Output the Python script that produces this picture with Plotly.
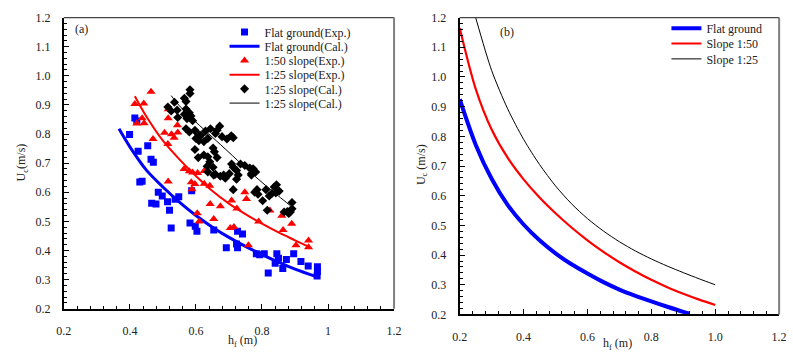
import plotly.graph_objects as go

# ---------------- data: panel (a) ----------------
flat_exp_h = [0.399, 0.415, 0.421, 0.425, 0.454, 0.464, 0.471, 0.430, 0.437, 0.466, 0.479, 0.486, 0.498,
              0.514, 0.520, 0.525, 0.537, 0.548, 0.587, 0.582, 0.598, 0.603, 0.654, 0.692, 0.723, 0.726,
              0.726, 0.741, 0.783, 0.793, 0.807, 0.819, 0.845, 0.850, 0.840, 0.863, 0.874, 0.896, 0.918,
              0.940, 0.968, 0.968, 0.967]
flat_exp_u = [0.798, 0.855, 0.845, 0.741, 0.760, 0.713, 0.703, 0.635, 0.638, 0.562, 0.560, 0.600, 0.587,
              0.567, 0.538, 0.477, 0.576, 0.585, 0.605, 0.494, 0.483, 0.466, 0.470, 0.409, 0.422, 0.409,
              0.466, 0.457, 0.389, 0.385, 0.389, 0.323, 0.389, 0.373, 0.356, 0.338, 0.369, 0.389, 0.362,
              0.347, 0.344, 0.328, 0.312]

flat_cal_h = [0.367, 0.40, 0.45, 0.50, 0.55, 0.60, 0.65, 0.70, 0.75, 0.80, 0.85, 0.90, 0.97]
flat_cal_u = [0.818, 0.756, 0.676, 0.618, 0.566, 0.520, 0.480, 0.445, 0.414, 0.386, 0.360, 0.336, 0.308]

s50_exp_h = [0.415, 0.442, 0.464, 0.421, 0.437, 0.443, 0.470, 0.516, 0.516, 0.505, 0.526, 0.534, 0.545,
             0.544, 0.515, 0.564, 0.580, 0.590, 0.605, 0.625, 0.516, 0.586, 0.597, 0.625, 0.642, 0.588,
             0.643, 0.674, 0.604, 0.610, 0.654, 0.704, 0.715, 0.708, 0.724, 0.748, 0.753, 0.759, 0.790,
             0.824, 0.860, 0.864, 0.890, 0.903, 0.941, 0.941]
s50_exp_u = [0.903, 0.905, 0.945, 0.836, 0.854, 0.837, 0.783, 0.885, 0.854, 0.804, 0.799, 0.787, 0.805,
             0.830, 0.766, 0.680, 0.672, 0.668, 0.666, 0.673, 0.637, 0.634, 0.628, 0.629, 0.622, 0.610,
             0.560, 0.552, 0.528, 0.500, 0.508, 0.477, 0.481, 0.572, 0.544, 0.600, 0.577, 0.418, 0.500,
             0.537, 0.519, 0.470, 0.492, 0.418, 0.434, 0.411]

s25_line_h = [0.415, 0.45, 0.50, 0.55, 0.60, 0.65, 0.70, 0.75, 0.80, 0.85, 0.90, 0.941]
s25_line_u = [0.930, 0.860, 0.777, 0.713, 0.656, 0.604, 0.561, 0.525, 0.492, 0.462, 0.435, 0.413]

s25_cal_h = [0.582, 0.582, 0.565, 0.570, 0.535, 0.515, 0.525, 0.543, 0.570, 0.580, 0.585, 0.565, 0.545,
             0.573, 0.590, 0.570, 0.580, 0.597, 0.605, 0.615, 0.600, 0.609, 0.624, 0.636, 0.629, 0.644,
             0.659, 0.664, 0.672, 0.679, 0.694, 0.707, 0.713, 0.597, 0.607, 0.624, 0.636, 0.652, 0.664,
             0.642, 0.656, 0.634, 0.652, 0.659, 0.674, 0.686, 0.708, 0.713, 0.723, 0.735, 0.748, 0.763,
             0.773, 0.781, 0.768, 0.701, 0.636, 0.654, 0.684, 0.723, 0.728, 0.713, 0.689, 0.768, 0.778,
             0.785, 0.788, 0.802, 0.816, 0.812, 0.830, 0.842, 0.844, 0.837, 0.852, 0.822, 0.867, 0.877,
             0.886, 0.891, 0.881, 0.891]
s25_cal_u = [0.952, 0.939, 0.923, 0.912, 0.909, 0.893, 0.879, 0.882, 0.886, 0.873, 0.862, 0.868, 0.857,
             0.853, 0.846, 0.818, 0.807, 0.813, 0.802, 0.796, 0.785, 0.777, 0.774, 0.785, 0.810, 0.818,
             0.802, 0.813, 0.827, 0.791, 0.783, 0.794, 0.787, 0.747, 0.719, 0.728, 0.722, 0.752, 0.719,
             0.705, 0.739, 0.689, 0.686, 0.662, 0.655, 0.653, 0.697, 0.686, 0.675, 0.697, 0.692, 0.683,
             0.681, 0.670, 0.664, 0.664, 0.670, 0.659, 0.659, 0.645, 0.659, 0.609, 0.648, 0.659, 0.600,
             0.609, 0.593, 0.571, 0.538, 0.609, 0.596, 0.598, 0.626, 0.618, 0.604, 0.587, 0.532, 0.534,
             0.532, 0.565, 0.527, 0.543]

s25_cline_h = [0.525, 0.55, 0.60, 0.65, 0.70, 0.75, 0.80, 0.85, 0.886]
s25_cline_u = [0.932, 0.897, 0.841, 0.789, 0.737, 0.684, 0.634, 0.587, 0.554]

# ---------------- data: panel (b) ----------------
b_flat_h = [0.20, 0.25, 0.30, 0.35, 0.40, 0.45, 0.50, 0.55, 0.60, 0.65, 0.70, 0.75, 0.80, 0.85, 0.90, 0.92]
b_flat_u = [0.925, 0.772, 0.657, 0.569, 0.503, 0.450, 0.406, 0.369, 0.338, 0.309, 0.284, 0.263, 0.244,
            0.226, 0.209, 0.203]

b_s50_h = [0.20, 0.25, 0.30, 0.35, 0.40, 0.45, 0.50, 0.55, 0.60, 0.65, 0.70, 0.75, 0.80, 0.85, 0.90,
           0.95, 1.00]
b_s50_u = [1.165, 0.960, 0.823, 0.728, 0.655, 0.594, 0.541, 0.493, 0.450, 0.411, 0.376, 0.345, 0.317,
           0.292, 0.270, 0.250, 0.232]

b_s25_h = [0.25, 0.30, 0.35, 0.40, 0.45, 0.50, 0.55, 0.60, 0.65, 0.70, 0.75, 0.80, 0.85, 0.90, 0.95, 1.00]
b_s25_u = [1.200, 1.022, 0.893, 0.790, 0.705, 0.633, 0.573, 0.523, 0.481, 0.445, 0.414, 0.387, 0.363,
           0.341, 0.320, 0.300]

x_ticks = [0.2, 0.4, 0.6, 0.8, 1.0, 1.2]
x_ticktext_a = ["0.2", "0.4", "0.6", "0.8", "1", "1.2"]
x_ticktext_b = ["0.2", "0.4", "0.6", "0.8", "1.0", "1.2"]
y_ticks = [0.2, 0.3, 0.4, 0.5, 0.6, 0.7, 0.8, 0.9, 1.0, 1.1, 1.2]
y_ticktext = ["0.2", "0.3", "0.4", "0.5", "0.6", "0.7", "0.8", "0.9", "1.0", "1.1", "1.2"]

assert len(s25_cal_h) == len(s25_cal_u)
assert len(flat_exp_h) == len(flat_exp_u)
assert len(s50_exp_h) == len(s50_exp_u)

# ---------------- figure ----------------
W, H = 793, 358
FONT = "Times New Roman, Liberation Serif, Times, serif"
BLUE, RED, BLACK = "#0000FF", "#FF0000", "#000000"


def fx(p):
    return p / W


def fy(p):
    return 1 - p / H


fig = go.Figure()

left_items = [
    dict(x=flat_exp_h, y=flat_exp_u, mode="markers", name="Flat ground(Exp.)",
         marker=dict(symbol="square", size=7, color=BLUE)),
    dict(x=flat_cal_h, y=flat_cal_u, mode="lines", name="Flat ground(Cal.)",
         line=dict(color=BLUE, width=3, shape="spline", smoothing=0.8)),
    dict(x=s50_exp_h, y=s50_exp_u, mode="markers", name="1:50 slope(Exp.)",
         marker=dict(symbol="triangle-up", size=8, color=RED)),
    dict(x=s25_line_h, y=s25_line_u, mode="lines", name="1:25 slope(Exp.)",
         line=dict(color=RED, width=2, shape="spline", smoothing=0.8)),
    dict(x=s25_cal_h, y=s25_cal_u, mode="markers", name="1:25 slope(Cal.)",
         marker=dict(symbol="diamond", size=7, color=BLACK)),
    dict(x=s25_cline_h, y=s25_cline_u, mode="lines", name="1:25 slope(Cal.)",
         line=dict(color=BLACK, width=1, shape="spline", smoothing=0.8)),
]
right_items = [
    dict(x=b_flat_h, y=b_flat_u, mode="lines", name="Flat ground",
         line=dict(color=BLUE, width=4, shape="spline", smoothing=0.8)),
    dict(x=b_s50_h, y=b_s50_u, mode="lines", name="Slope 1:50",
         line=dict(color=RED, width=2.2, shape="spline", smoothing=0.8)),
    dict(x=b_s25_h, y=b_s25_u, mode="lines", name="Slope 1:25",
         line=dict(color=BLACK, width=1, shape="spline", smoothing=0.8)),
]

legend_layouts = {}
k = 1
left_y = [26.0, 40.8, 55.6, 70.4, 85.2, 100.0]
for i, it in enumerate(left_items):
    lname = "legend" if k == 1 else f"legend{k}"
    fig.add_trace(go.Scatter(**it, xaxis="x", yaxis="y", legend=lname, showlegend=True))
    legend_layouts[lname] = dict(x=fx(221), y=fy(left_y[i]), xanchor="left", yanchor="middle",
                                 bgcolor="rgba(0,0,0,0)", borderwidth=0, itemwidth=30,
                                 font=dict(family=FONT, size=12, color="#222"))
    k += 1
right_y = [22, 38, 54]
for i, it in enumerate(right_items):
    lname = f"legend{k}"
    fig.add_trace(go.Scatter(**it, xaxis="x2", yaxis="y2", legend=lname, showlegend=True))
    legend_layouts[lname] = dict(x=fx(672), y=fy(right_y[i]), xanchor="left", yanchor="middle",
                                 bgcolor="rgba(0,0,0,0)", borderwidth=0, itemwidth=30,
                                 font=dict(family=FONT, size=12, color="#222"))
    k += 1

tickfont = dict(family=FONT, size=12, color="#222")


def xaxis_cfg(domain, ticktext, anchor):
    return dict(domain=domain, range=[0.2, 1.2], tickvals=x_ticks, ticktext=ticktext,
                ticks="inside", ticklen=5, tickwidth=1, tickcolor="black",
                minor=dict(dtick=0.04, tick0=0.2, ticks="inside", ticklen=3, tickwidth=1, tickcolor="black"),
                showline=True, linecolor="black", linewidth=2, showgrid=False, zeroline=False,
                tickfont=tickfont, ticklabelstandoff=10, anchor=anchor, fixedrange=True)


def yaxis_cfg(domain, anchor):
    return dict(domain=domain, range=[0.2, 1.2], tickvals=y_ticks, ticktext=y_ticktext,
                ticks="inside", ticklen=5, tickwidth=1, tickcolor="black",
                minor=dict(dtick=0.02, tick0=0.2, ticks="inside", ticklen=3, tickwidth=1, tickcolor="black"),
                showline=True, linecolor="black", linewidth=2, showgrid=False, zeroline=False,
                tickfont=tickfont, ticklabelstandoff=9, anchor=anchor, fixedrange=True)


fig.update_layout(
    width=W, height=H, margin=dict(l=0, r=0, t=0, b=0),
    paper_bgcolor="white", plot_bgcolor="white",
    font=dict(family=FONT, size=12, color="#222"),
    xaxis=xaxis_cfg([fx(57), fx(394)], x_ticktext_a, "y"),
    yaxis=yaxis_cfg([fy(314), fy(11)], "x"),
    xaxis2=xaxis_cfg([fx(461), fx(787)], x_ticktext_b, "y2"),
    yaxis2=yaxis_cfg([fy(320), fy(11)], "x2"),
    **legend_layouts,
)

# frame lines (top and right)
for xr, yr in [("x domain", "y domain"), ("x2 domain", "y2 domain")]:
    fig.add_shape(type="line", xref=xr, yref=yr, x0=0, x1=1, y0=1, y1=1,
                  line=dict(color="#444", width=1.2))
    fig.add_shape(type="line", xref=xr, yref=yr, x0=1, x1=1, y0=0, y1=1,
                  line=dict(color="#808080", width=2))

ann_font = dict(family=FONT, size=12, color="#222")
annotations = [
    dict(text="(a)", x=fx(75), y=fy(23)),
    dict(text="(b)", x=fx(509), y=fy(26)),
    dict(text="h<sub>f</sub> (m)", x=fx(239), y=fy(348)),
    dict(text="h<sub>f</sub> (m)", x=fx(622), y=fy(351)),
    dict(text="U<sub>c</sub>(m/s)", x=fx(14), y=fy(162), textangle=-90),
    dict(text="U<sub>c</sub> (m/s)", x=fx(422), y=fy(164), textangle=-90),
]
for a in annotations:
    fig.add_annotation(xref="paper", yref="paper", showarrow=False, font=ann_font,
                       xanchor="center", yanchor="middle", **a)

fig.write_html("out.html", config={"displayModeBar": False},
               post_script="document.body.style.margin='0';document.body.style.overflow='hidden';")
